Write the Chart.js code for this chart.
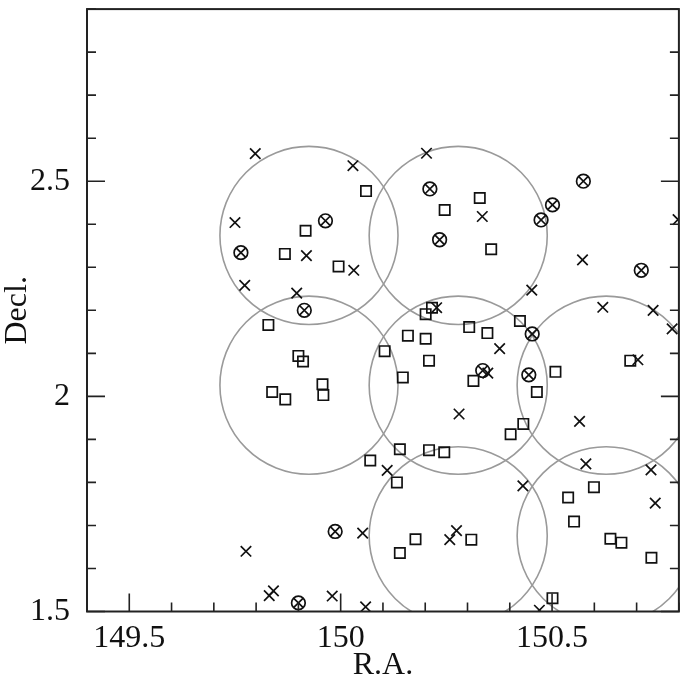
<!DOCTYPE html>
<html><head><meta charset="utf-8">
<script src="https://cdn.jsdelivr.net/npm/chart.js@4.4.1/dist/chart.umd.min.js"></script>
<style>html,body{margin:0;padding:0;background:#fff}#wrap{width:688px;height:682px}</style>
</head><body><div id="wrap"><canvas id="c" width="688" height="682"></canvas></div>
<script>
// Axis ranges and labelled ticks
const xRange = [149.4, 150.8];
const yRange = [1.5, 2.9];
const xTickLabels = [149.5, 150, 150.5];
const yTickLabels = [1.5, 2, 2.5];

// Field circles (centres, radius in deg of R.A.)
const fieldRA  = [149.925, 150.278, 149.925, 150.278, 150.628, 150.278, 150.628];
const fieldDec = [2.374, 2.374, 2.026, 2.026, 2.026, 1.676, 1.676];
const fieldRadius = 0.2106;

// Crosses
const crossRA  = [149.798,150.029,149.750,149.919,150.031,149.773,149.896,150.203,150.335,150.572,150.452,150.798,150.227,150.620,150.739,150.784,150.376,150.348,150.703,150.280,150.565,150.580,150.734,150.431,150.110,150.052,149.776,149.841,149.831,149.980,150.059,150.744,150.274,150.258,150.470];
const crossDec = [2.564,2.536,2.404,2.327,2.293,2.258,2.240,2.565,2.418,2.317,2.247,2.411,2.206,2.207,2.200,2.157,2.111,2.054,2.085,1.959,1.942,1.843,1.829,1.792,1.828,1.682,1.640,1.548,1.537,1.536,1.511,1.752,1.688,1.667,1.503];

// Squares
const squareRA  = [150.060,149.917,149.868,149.995,149.829,150.159,150.329,150.246,150.356,150.216,150.201,150.304,150.347,150.424,150.201,149.900,149.911,150.104,150.147,149.957,149.959,149.838,149.869,150.140,150.070,150.133,150.209,150.314,150.508,150.685,150.464,150.432,150.402,150.209,150.245,150.599,150.538,150.552,150.177,150.140,150.309,150.638,150.664,150.735,150.501];
const squareDec = [2.477,2.385,2.331,2.302,2.166,2.141,2.461,2.433,2.342,2.206,2.191,2.161,2.147,2.175,2.134,2.094,2.081,2.105,2.044,2.028,2.003,2.010,1.993,1.877,1.851,1.800,2.083,2.036,2.057,2.083,2.010,1.936,1.912,1.875,1.870,1.789,1.765,1.709,1.668,1.636,1.667,1.669,1.660,1.625,1.531];

// Circled crosses
const otimesRA  = [149.964,149.764,149.914,150.211,150.234,150.574,150.501,150.474,150.711,150.453,150.336,150.445,149.987,149.900];
const otimesDec = [2.408,2.334,2.200,2.482,2.364,2.500,2.445,2.410,2.293,2.145,2.060,2.050,1.686,1.520];

const pts = (xs, ys) => xs.map((x, i) => ({x: x, y: ys[i]}));

const FONT = {family: '"Liberation Serif", "DejaVu Serif", serif', size: 32};
const INK = '#111';

function isLabelled(v, list) {
  const r = Math.round(v * 10) / 10;
  return list.some(t => Math.abs(t - r) < 1e-6) ? String(r) : '';
}

const frameTicks = {
  id: 'frameTicks',
  afterDatasetsDraw(chart) {
    const {ctx, chartArea: a, scales: {x, y}} = chart;
    ctx.save();
    ctx.strokeStyle = '#222';
    ctx.lineWidth = 1.6;
    ctx.beginPath();
    x.ticks.forEach(t => {
      const px = x.getPixelForValue(t.value);
      const L = t.label ? 18 : 9;
      ctx.moveTo(px, a.bottom); ctx.lineTo(px, a.bottom - L);
    });
    y.ticks.forEach(t => {
      const py = y.getPixelForValue(t.value);
      const L = t.label ? 18 : 9;
      ctx.moveTo(a.left, py); ctx.lineTo(a.left + L, py);
      ctx.moveTo(a.right, py); ctx.lineTo(a.right - L, py);
    });
    ctx.stroke();
    ctx.lineWidth = 2;
    ctx.strokeRect(a.left, a.top, a.right - a.left, a.bottom - a.top);
    ctx.restore();
  }
};

new Chart(document.getElementById('c'), {
  type: 'scatter',
  data: {
    datasets: [
      {label: 'otimes-ring', data: pts(otimesRA, otimesDec), pointStyle: 'circle', pointRadius: 6.8,
       borderColor: INK, backgroundColor: 'rgba(0,0,0,0)', borderWidth: 1.7, clip: 0, order: 1},
      {label: 'otimes-cross', data: pts(otimesRA, otimesDec), pointStyle: 'crossRot', pointRadius: 6.8,
       borderColor: INK, borderWidth: 1.7, clip: 0, order: 1},
      {label: 'cross', data: pts(crossRA, crossDec), pointStyle: 'crossRot', pointRadius: 7.4,
       borderColor: INK, borderWidth: 1.7, clip: 0, order: 2},
      {label: 'square', data: pts(squareRA, squareDec), pointStyle: 'rect', pointRadius: 7.3,
       borderColor: INK, backgroundColor: 'rgba(0,0,0,0)', borderWidth: 1.7, clip: 0, order: 3},
      {label: 'fields', data: pts(fieldRA, fieldDec), pointStyle: 'circle',
       pointRadius: c => {
         const s = c.chart.scales.x;
         return Math.abs(s.getPixelForValue(fieldRA[0] + fieldRadius) - s.getPixelForValue(fieldRA[0]));
       },
       borderColor: '#9a9a9a', backgroundColor: 'rgba(0,0,0,0)', borderWidth: 1.6, clip: 0, order: 10}
    ]
  },
  options: {
    responsive: false,
    animation: false,
    events: [],
    devicePixelRatio: 1,
    layout: {padding: {top: 5, right: 6, left: 0, bottom: 0}},
    plugins: {legend: {display: false}, tooltip: {enabled: false}},
    scales: {
      x: {
        type: 'linear', min: xRange[0], max: xRange[1],
        grid: {display: false, drawTicks: false},
        border: {display: false},
        ticks: {stepSize: 0.1, autoSkip: false, maxRotation: 0, padding: 8, color: INK, font: FONT,
                callback: v => isLabelled(v, xTickLabels)},
        title: {display: true, text: 'R.A.', color: INK,
                font: {family: FONT.family, size: 32, lineHeight: 1.0}, padding: {top: 0, bottom: 0}},
        afterFit: s => { s.height = 70.5; s.paddingLeft = 0; s.paddingRight = 0; }
      },
      y: {
        type: 'linear', min: yRange[0], max: yRange[1],
        grid: {display: false, drawTicks: false},
        border: {display: false},
        ticks: {stepSize: 0.1, autoSkip: false, padding: 17, color: INK, font: FONT,
                callback: v => isLabelled(v, yTickLabels)},
        title: {display: true, text: 'Decl.', color: INK,
                font: {family: FONT.family, size: 32, lineHeight: 1.1}, padding: {top: 0, bottom: 0}},
        afterFit: s => { s.width = 87; s.paddingTop = 0; s.paddingBottom = 0; }
      }
    }
  },
  plugins: [frameTicks]
});
</script>
</body></html>
